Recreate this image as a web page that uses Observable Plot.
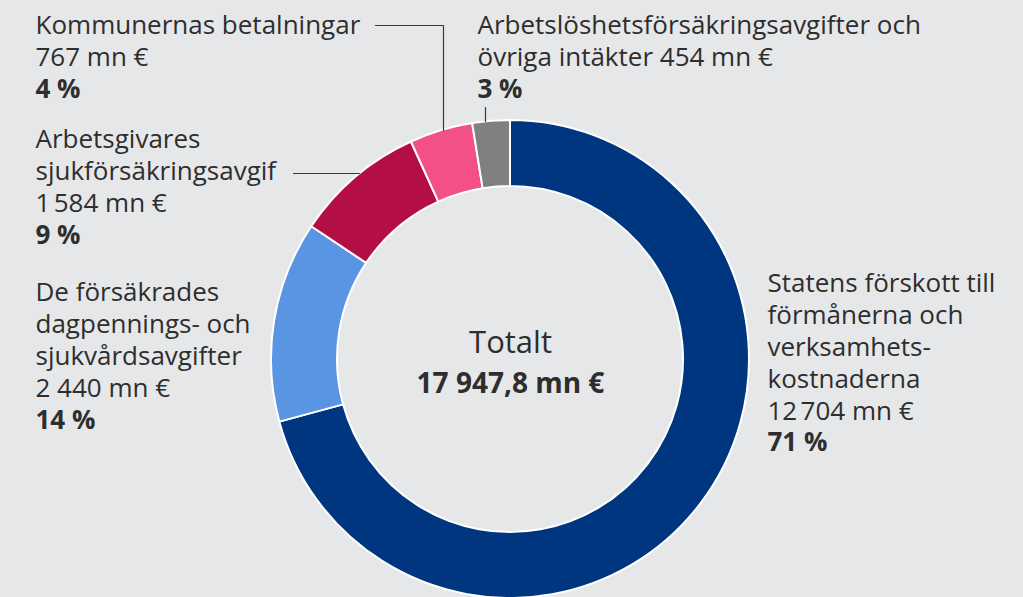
<!DOCTYPE html>
<html>
<head>
<meta charset="utf-8">
<script src="https://cdn.jsdelivr.net/npm/d3@7"></script>
<script src="https://cdn.jsdelivr.net/npm/@observablehq/plot@0.6"></script>
<style>
  html, body { margin: 0; padding: 0; background: #e6e7e9; }
  #chart { width: 1023px; height: 597px; overflow: hidden; }
</style>
</head>
<body>
<div id="chart"></div>
<script>
// ---- Data ----
const categories = [
  "Statens förskott till förmånerna och verksamhetskostnaderna",
  "De försäkrades dagpennings- och sjukvårdsavgifter",
  "Arbetsgivares sjukförsäkringsavgif",
  "Kommunernas betalningar",
  "Arbetslöshetsförsäkringsavgifter och övriga intäkter"
];
const values = [12704, 2440, 1584, 767, 454];           // mn €
const valueLabels = ["12\u202F704 mn €", "2 440 mn €", "1\u202F584 mn €", "767 mn €", "454 mn €"];
const percentLabels = ["71 %", "14 %", "9 %", "4 %", "3 %"];
const totalLabel = "17 947,8 mn €";
const colors = ["#00367f", "#5a95e3", "#b30f45", "#f25087", "#808080"];

// ---- Layout (pixel frame) ----
const W = 1023, H = 597;
const CX = 510, CY = 359, R_OUT = 239, R_IN = 173;
const FONT = "'Open Sans', 'Noto Sans', sans-serif";
const TEXT = "#2e2e2e";

// label text blocks: name lines (+ value) then bold percent line
const labelBlocks = [
  {i: 0, x: 767, lines: ["Statens förskott till", "förmånerna och", "verksamhets-", "kostnaderna", valueLabels[0]], y: 419, py: 450},
  {i: 1, x: 35, lines: ["De försäkrades", "dagpennings- och", "sjukvårdsavgifter", valueLabels[1]], y: 396, py: 428},
  {i: 2, x: 35, lines: ["Arbetsgivares", "sjukförsäkringsavgif", valueLabels[2]], y: 211, py: 243},
  {i: 3, x: 35, lines: ["Kommunernas betalningar", valueLabels[3]], y: 65, py: 97},
  {i: 4, x: 477, lines: ["Arbetslöshetsförsäkringsavgifter och", "övriga intäkter " + valueLabels[4]], y: 65, py: 97}
];
const labelText = labelBlocks.map(b => ({x: b.x, y: b.y, text: b.lines.join("\n")}));
const percentText = labelBlocks.map(b => ({x: b.x, y: b.py, text: percentLabels[b.i]}));

// leader lines (polylines)
const leaders = [
  {id: "k", pts: [[375, 25], [443, 25], [443, 130]]},
  {id: "a", pts: [[293, 173], [359, 173]]},
  {id: "l", pts: [[485, 107], [485, 121]]}
];
const leaderPts = leaders.flatMap(l => l.pts.map(([x, y]) => ({id: l.id, x, y})));

const slices = categories.map((c, i) => ({category: c, value: values[i], color: colors[i]}));

// donut drawn via the plot's x/y scales
function donut(data) {
  return (index, scales) => {
    const cx = scales.x(CX), cy = scales.y(CY);
    const ro = scales.x(CX + R_OUT) - cx, ri = scales.x(CX + R_IN) - cx;
    const arcs = d3.pie().sort(null).value(d => d.value)(data);
    const arc = d3.arc().innerRadius(ri).outerRadius(ro);
    const g = d3.create("svg:g").attr("transform", `translate(${cx},${cy})`);
    g.selectAll("path").data(arcs).join("path")
      .attr("d", arc)
      .attr("fill", d => d.data.color)
      .attr("stroke", "#ffffff")
      .attr("stroke-width", 2)
      .attr("stroke-linejoin", "round");
    return g.node();
  };
}

const chart = Plot.plot({
  width: W, height: H, margin: 0,
  x: {domain: [0, W], range: [0, W], axis: null},
  y: {domain: [0, H], range: [0, H], axis: null},
  style: {background: "#e6e7e9", fontFamily: FONT, color: TEXT, overflow: "hidden"},
  marks: [
    donut(slices),
    Plot.line(leaderPts, {x: "x", y: "y", z: "id", stroke: "#3a3a3a", strokeWidth: 1.2}),
    Plot.text(labelText, {x: "x", y: "y", text: "text", textAnchor: "start", lineAnchor: "bottom",
      fontSize: 26, lineHeight: 1.225, fill: TEXT}),
    Plot.text(percentText, {x: "x", y: "y", text: "text", textAnchor: "start", lineAnchor: "bottom",
      fontSize: 26, fontWeight: "bold", fill: TEXT}),
    Plot.text(["Totalt"], {x: () => CX, y: () => 352, text: d => d, textAnchor: "middle", lineAnchor: "bottom",
      fontSize: 31, fill: TEXT}),
    Plot.text([totalLabel], {x: () => CX, y: () => 392, text: d => d, textAnchor: "middle", lineAnchor: "bottom",
      fontSize: 28, fontWeight: "bold", fill: TEXT})
  ]
});
document.getElementById("chart").appendChild(chart);
</script>
</body>
</html>
